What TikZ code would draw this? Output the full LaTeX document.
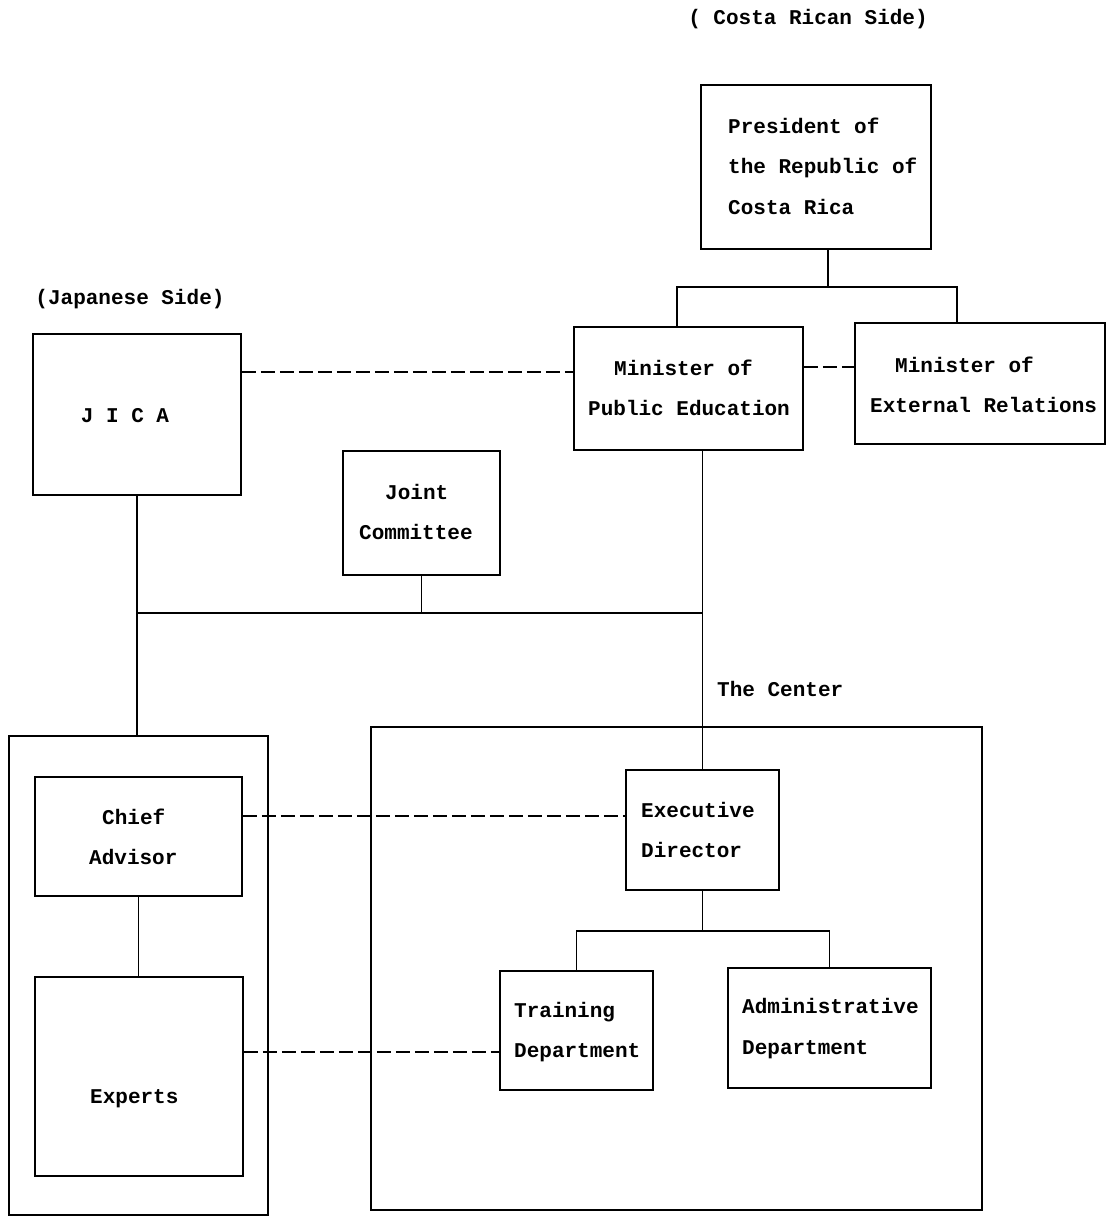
\documentclass[tikz,border=0pt]{standalone}
\usepackage{fontspec}
\setmonofont{Liberation Mono}
\begin{document}
\begin{tikzpicture}[x=1pt,y=-1pt,
  box/.style={draw, line width=1.8pt, inner sep=0pt},
  lbl/.style={font=\fontsize{21}{25}\selectfont\ttfamily\bfseries, inner sep=0pt, anchor=mid west},
  clbl/.style={font=\fontsize{21}{25}\selectfont\ttfamily\bfseries, inner sep=0pt, anchor=mid},
  link/.style={line width=1.6pt},
  dlink/.style={line width=1.6pt, dash pattern=on 14pt off 5pt}]
\useasboundingbox (0,0) rectangle (1106,1217);
% boxes
\node[box, minimum width=230pt, minimum height=164pt] (pres) at (816,167) {};
\node[box, minimum width=229pt, minimum height=123pt] (mpe) at (688.5,388.5) {};
\node[box, minimum width=250pt, minimum height=121pt] (mer) at (980,383.5) {};
\node[box, minimum width=208pt, minimum height=161pt] (jica) at (137,414.5) {};
\node[box, minimum width=157pt, minimum height=124pt] (joint) at (421.5,513) {};
\node[box, minimum width=259pt, minimum height=479pt] (jside) at (138.5,975.5) {};
\node[box, minimum width=611pt, minimum height=483pt] (center) at (676.5,968.5) {};
\node[box, minimum width=207pt, minimum height=119pt] (chief) at (138.5,836.5) {};
\node[box, minimum width=208pt, minimum height=199pt] (experts) at (139,1076.5) {};
\node[box, minimum width=153pt, minimum height=120pt] (ed) at (702.5,830) {};
\node[box, minimum width=153pt, minimum height=119pt] (train) at (576.5,1030.5) {};
\node[box, minimum width=203pt, minimum height=120pt] (admin) at (829.5,1028) {};
% texts
\node[clbl] (tcr) at (808,22) {( Costa Rican Side)};
\node[clbl] (tjp) at (130,302) {(Japanese Side)};
\node[lbl] (p1) at (728,131) {President of};
\node[lbl] (p2) at (728,171) {the Republic of};
\node[lbl] (p3) at (728,212) {Costa Rica};
\node[lbl] (m1) at (614,373) {Minister of};
\node[lbl] (m2) at (588,413) {Public Education};
\node[lbl] (e1) at (895,370) {Minister of};
\node[lbl] (e2) at (870,410) {External Relations};
\node[clbl] (tj) at (125,420) {J I C A};
\node[lbl] (j1) at (385,497) {Joint};
\node[lbl] (j2) at (359,537) {Committee};
\node[lbl] (tc) at (717,694) {The Center};
\node[lbl] (c1) at (102,822) {Chief};
\node[lbl] (c2) at (89,862) {Advisor};
\node[lbl] (x1) at (90,1101) {Experts};
\node[lbl] (d1) at (641,815) {Executive};
\node[lbl] (d2) at (641,855) {Director};
\node[lbl] (t1) at (514,1015) {Training};
\node[lbl] (t2) at (514,1055) {Department};
\node[lbl] (a1) at (742,1011) {Administrative};
\node[lbl] (a2) at (742,1052) {Department};
% coordinates
\coordinate (pb) at (828,287);
\coordinate (pl) at (677,287);
\coordinate (pr) at (957,287);
\coordinate (h1) at (137,613);
\coordinate (h2) at (703,613);
\coordinate (eb) at (702.5,931);
\coordinate (y1) at (0,372);
\coordinate (y2) at (0,367);
\coordinate (y3) at (0,816);
\coordinate (y4) at (0,1052);
% solid links
\draw[link] (pres.south -| pb) -- (pb);
\draw[link] (mpe.north -| pl) -- (pl) -- (pr) -- (mer.north -| pr);
\draw[link] (jica.south) -- (jica.south |- jside.north);
\draw[link] (h1) -- (h2);
\draw[link] (joint.south) -- (joint.south |- h1);
\draw[link] (mpe.south -| ed.north) -- (ed.north);
\draw[link] (chief.south) -- (chief.south |- experts.north);
\draw[link] (ed.south) -- (eb);
\draw[link] (train.north) -- (train.north |- eb) -- (admin.north |- eb) -- (admin.north);
% dashed links
\draw[dlink] (jica.east |- y1) -- (mpe.west |- y1);
\draw[dlink] (mpe.east |- y2) -- (mer.west |- y2);
\draw[dlink] (chief.east |- y3) -- (ed.west |- y3);
\draw[dlink] (experts.east |- y4) -- (train.west |- y4);
\end{tikzpicture}
\end{document}
